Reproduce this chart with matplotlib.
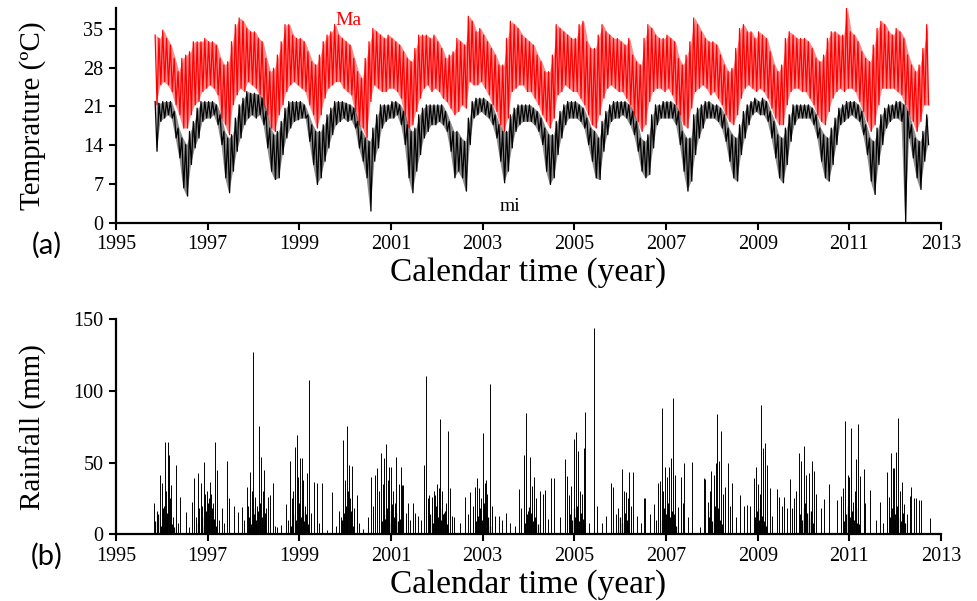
import numpy as np
import matplotlib.pyplot as plt

ma_hi = [
    33.9, 33.3,                                                        # 1995 Nov-Dec
    34.8, 33.3, 32.1, 29.7, 27.3, 29.7, 30.3, 30.9, 32.7, 32.7, 32.7, 33.3,  # 1996
    32.7, 32.7, 32.1, 29.7, 28.5, 29.1, 32.7, 35.8, 37.0, 36.4, 35.1, 34.5,  # 1997
    34.5, 33.3, 32.7, 29.7, 27.3, 27.9, 30.3, 32.7, 35.8, 35.8, 33.9, 33.3,  # 1998
    33.3, 32.7, 30.9, 29.1, 28.5, 30.3, 32.7, 33.9, 34.5, 35.8, 33.9, 33.3,  # 1999
    32.7, 32.1, 29.7, 27.3, 26.1, 29.7, 32.7, 35.1, 34.5, 33.9, 33.3, 33.9,  # 2000
    33.3, 32.7, 32.1, 30.9, 29.7, 29.1, 31.5, 33.9, 33.9, 33.9, 33.3, 33.9,  # 2001
    32.7, 31.5, 29.7, 30.3, 30.9, 33.3, 32.7, 32.1, 37.3, 36.4, 34.5, 35.1,  # 2002
    33.9, 32.7, 31.5, 30.3, 28.5, 28.5, 33.3, 36.4, 35.8, 35.1, 33.9, 33.3,  # 2003
    32.7, 32.1, 30.3, 29.1, 27.3, 27.3, 30.3, 35.8, 35.1, 34.5, 33.9, 33.3,  # 2004
    33.3, 35.8, 36.4, 32.7, 31.5, 31.5, 33.9, 35.8, 34.5, 33.9, 33.3, 33.3,  # 2005
    32.7, 32.1, 33.3, 30.3, 29.1, 28.5, 33.3, 35.8, 35.1, 33.9, 33.3, 33.3,  # 2006
    33.9, 33.3, 32.7, 29.7, 28.5, 30.3, 32.7, 37.0, 35.8, 34.5, 33.3, 32.7,  # 2007
    32.7, 32.1, 30.3, 28.5, 27.3, 27.9, 31.5, 35.1, 35.8, 34.5, 34.5, 33.3,  # 2008
    34.5, 33.9, 33.3, 30.9, 28.5, 27.3, 28.5, 33.3, 34.5, 33.9, 33.3, 33.3,  # 2009
    33.3, 32.7, 31.5, 29.7, 29.1, 30.3, 33.3, 34.5, 34.5, 33.9, 33.9, 38.8,  # 2010
    34.5, 33.9, 32.7, 30.9, 29.7, 29.1, 32.1, 35.1, 36.4, 35.8, 34.5, 33.9,  # 2011
    35.1, 34.5, 33.3, 30.3, 28.5, 27.3, 28.5, 31.5, 35.8,                    # 2012 Jan-Sep
]
ma_lo = [
    21.3, 24.9,
    25.5, 24.9, 23.7, 21.3, 19.5, 17.1, 17.1, 19.5, 21.3, 21.9, 23.7, 24.3,
    24.9, 24.3, 23.1, 18.9, 17.7, 15.9, 21.3, 23.1, 24.3, 23.7, 25.5, 24.9,
    24.3, 23.1, 21.3, 19.5, 17.1, 16.5, 19.5, 21.3, 23.7, 24.9, 25.5, 24.9,
    24.3, 23.7, 21.3, 19.5, 17.1, 19.5, 22.5, 24.3, 24.9, 25.5, 25.5, 24.3,
    23.7, 23.1, 20.1, 17.7, 17.1, 15.3, 21.9, 24.9, 24.3, 23.7, 23.7, 24.3,
    24.3, 23.7, 22.5, 19.5, 17.1, 17.7, 20.1, 22.5, 24.3, 24.9, 23.7, 24.3,
    23.7, 22.5, 21.9, 20.7, 19.5, 20.1, 21.3, 20.7, 25.5, 24.9, 24.9, 25.5,
    24.3, 23.1, 21.3, 20.1, 17.7, 16.5, 18.9, 23.7, 24.3, 24.9, 24.9, 23.7,
    23.7, 22.5, 21.3, 19.5, 18.3, 17.1, 18.9, 23.1, 23.7, 24.9, 24.3, 23.7,
    23.7, 22.5, 21.3, 19.5, 17.7, 17.1, 19.5, 22.5, 24.3, 24.9, 24.3, 23.7,
    23.7, 22.5, 21.3, 19.5, 18.3, 16.5, 17.7, 21.9, 23.7, 24.3, 24.3, 23.7,
    24.3, 23.1, 21.3, 19.5, 17.7, 17.1, 20.7, 23.7, 24.3, 24.9, 24.3, 23.1,
    23.7, 22.5, 21.3, 19.5, 18.3, 17.7, 19.5, 22.5, 24.3, 24.9, 24.3, 23.7,
    24.3, 23.7, 22.5, 20.7, 18.9, 17.7, 17.7, 21.3, 23.7, 24.3, 24.3, 23.7,
    23.7, 22.5, 21.3, 19.5, 18.3, 17.7, 20.1, 22.5, 23.7, 24.3, 23.7, 24.3,
    24.3, 23.7, 21.9, 20.1, 18.3, 16.5, 17.7, 21.3, 24.3, 24.3, 24.3, 24.3,
    23.7, 23.1, 21.3, 19.5, 18.3, 16.5, 18.3, 21.3, 21.3,
]
mi_hi = [
    21.9, 21.6,
    21.9, 21.9, 21.9, 20.1, 17.1, 15.3, 14.1, 16.5, 18.3, 20.7, 21.9, 21.9,
    21.9, 21.9, 21.3, 19.5, 16.5, 15.3, 15.9, 18.9, 21.3, 22.5, 23.7, 23.4,
    23.4, 23.1, 22.5, 20.1, 17.1, 15.9, 16.5, 18.3, 20.7, 21.9, 21.9, 21.9,
    21.9, 21.3, 19.5, 17.7, 16.5, 16.5, 17.7, 19.5, 20.7, 21.9, 21.9, 21.9,
    21.6, 21.3, 20.7, 18.3, 16.5, 15.3, 14.7, 17.1, 19.5, 21.3, 21.3, 21.3,
    21.9, 21.9, 21.3, 20.1, 17.7, 16.5, 17.1, 19.5, 20.7, 21.3, 21.3, 21.3,
    21.3, 21.3, 20.1, 18.3, 16.5, 16.5, 15.3, 14.7, 18.9, 21.9, 22.5, 22.5,
    22.5, 21.9, 21.3, 19.5, 17.7, 16.5, 16.5, 19.5, 20.7, 21.3, 21.3, 21.3,
    21.3, 20.7, 20.1, 18.9, 17.1, 15.9, 15.9, 18.3, 20.1, 21.3, 21.9, 21.9,
    21.9, 21.3, 20.7, 18.9, 17.1, 16.5, 15.3, 18.3, 20.1, 21.3, 21.9, 21.9,
    21.9, 21.9, 21.3, 20.1, 18.3, 15.3, 14.7, 15.9, 19.5, 21.3, 21.3, 21.9,
    21.9, 21.9, 21.3, 20.1, 16.5, 15.3, 15.3, 19.5, 20.7, 21.3, 21.9, 21.9,
    21.3, 21.3, 20.7, 19.5, 17.1, 15.9, 15.3, 17.7, 20.1, 21.3, 21.9, 22.5,
    21.9, 22.5, 21.9, 20.1, 18.3, 15.9, 15.3, 17.1, 19.5, 21.3, 21.3, 21.3,
    21.3, 21.3, 20.7, 19.5, 17.1, 15.9, 15.3, 17.1, 18.9, 20.7, 21.3, 21.9,
    21.9, 21.9, 21.3, 20.1, 17.7, 15.3, 14.7, 17.1, 19.5, 20.7, 21.3, 21.3,
    21.9, 21.9, 21.3, 20.1, 17.7, 15.3, 14.7, 16.5, 19.5,
]
mi_lo = [
    12.9, 18.3,
    18.9, 19.5, 18.9, 15.3, 11.7, 6.3, 4.8, 10.5, 13.5, 15.3, 18.3, 18.9,
    18.9, 19.5, 17.7, 14.1, 8.1, 5.4, 9.3, 12.9, 15.3, 17.7, 18.9, 19.5,
    18.9, 19.5, 17.7, 13.5, 9.3, 7.8, 8.1, 12.3, 15.3, 17.1, 18.3, 18.6,
    18.9, 18.9, 14.7, 10.5, 6.9, 8.1, 11.1, 13.5, 15.9, 17.7, 18.3, 18.9,
    18.3, 18.6, 17.1, 13.5, 11.1, 8.1, 2.1, 11.1, 13.5, 17.1, 18.3, 18.9,
    18.9, 19.5, 17.7, 14.1, 8.1, 5.4, 9.3, 12.3, 15.3, 16.5, 17.7, 17.7,
    18.3, 17.7, 16.5, 12.9, 8.1, 9.3, 8.1, 5.7, 14.1, 18.9, 19.5, 20.1,
    19.5, 18.9, 17.7, 15.3, 11.1, 7.2, 9.3, 13.5, 16.5, 17.7, 18.3, 18.3,
    18.3, 17.7, 16.5, 14.1, 9.3, 6.9, 8.1, 12.3, 15.3, 17.7, 18.9, 18.9,
    18.9, 18.3, 17.1, 14.1, 11.1, 8.1, 7.8, 12.9, 15.9, 18.3, 18.9, 18.9,
    19.5, 18.9, 17.7, 15.9, 12.9, 9.3, 8.1, 8.7, 13.5, 17.7, 18.9, 18.9,
    18.9, 18.9, 17.7, 14.1, 9.3, 5.7, 7.5, 12.3, 15.3, 17.1, 18.9, 18.9,
    18.9, 18.3, 17.1, 14.7, 11.1, 8.1, 7.5, 12.3, 15.3, 17.7, 19.5, 20.1,
    19.5, 19.5, 18.3, 15.3, 11.7, 8.1, 7.2, 10.5, 14.7, 17.7, 18.9, 18.9,
    18.9, 18.9, 17.7, 15.3, 11.1, 8.1, 7.5, 10.5, 14.1, 17.7, 18.3, 18.9,
    19.5, 18.9, 18.3, 15.9, 12.3, 7.5, 5.1, 10.5, 14.1, 17.1, 18.3, 18.9,
    18.9, 18.3, 0.0, 15.3, 11.7, 8.1, 6.0, 11.1, 14.1,
]

# Daily rainfall events (decimal year, mm)
rain_t = [
    1995.84, 1995.89, 1995.96, 1996.01, 1996.04, 1996.07, 1996.10, 1996.13, 1996.15, 1996.18,
    1996.20, 1996.25, 1996.30, 1996.35, 1996.40, 1996.52, 1996.60, 1996.65, 1996.71, 1996.74,
    1996.78, 1996.82, 1996.85, 1996.88, 1996.91, 1996.95, 1996.99, 1997.02, 1997.05, 1997.08,
    1997.12, 1997.15, 1997.20, 1997.25, 1997.31, 1997.36, 1997.42, 1997.47, 1997.58, 1997.67,
    1997.76, 1997.80, 1997.85, 1997.88, 1997.92, 1997.96, 1998.00, 1998.04, 1998.08, 1998.12,
    1998.16, 1998.20, 1998.24, 1998.28, 1998.31, 1998.36, 1998.43, 1998.47, 1998.52, 1998.60,
    1998.72, 1998.76, 1998.80, 1998.84, 1998.87, 1998.90, 1998.95, 1998.98, 1999.02, 1999.05,
    1999.09, 1999.13, 1999.17, 1999.21, 1999.25, 1999.31, 1999.38, 1999.44, 1999.50, 1999.60,
    1999.72, 1999.80, 1999.86, 1999.91, 1999.96, 2000.00, 2000.03, 2000.06, 2000.08, 2000.11,
    2000.14, 2000.20, 2000.25, 2000.31, 2000.40, 2000.50, 2000.56, 2000.61, 2000.65, 2000.70,
    2000.73, 2000.78, 2000.82, 2000.85, 2000.90, 2000.93, 2000.96, 2001.00, 2001.04, 2001.08,
    2001.12, 2001.17, 2001.21, 2001.24, 2001.27, 2001.32, 2001.37, 2001.42, 2001.47, 2001.52,
    2001.58, 2001.66, 2001.72, 2001.77, 2001.80, 2001.84, 2001.90, 2001.94, 2001.97, 2002.00,
    2002.04, 2002.08, 2002.12, 2002.16, 2002.20, 2002.25, 2002.28, 2002.33, 2002.38, 2002.50,
    2002.61, 2002.68, 2002.73, 2002.78, 2002.83, 2002.87, 2002.92, 2002.96, 2003.00, 2003.04,
    2003.07, 2003.10, 2003.15, 2003.20, 2003.27, 2003.35, 2003.42, 2003.50, 2003.60, 2003.70,
    2003.79, 2003.84, 2003.90, 2003.94, 2003.98, 2004.04, 2004.08, 2004.13, 2004.17, 2004.25,
    2004.32, 2004.37, 2004.42, 2004.50, 2004.56, 2004.68, 2004.80, 2004.84, 2004.88, 2004.93,
    2004.99, 2005.04, 2005.08, 2005.12, 2005.16, 2005.20, 2005.24, 2005.31, 2005.42, 2005.50,
    2005.60, 2005.68, 2005.81, 2005.84, 2005.90, 2005.96, 2006.03, 2006.08, 2006.12, 2006.16,
    2006.19, 2006.23, 2006.27, 2006.36, 2006.45, 2006.51, 2006.55, 2006.64, 2006.74, 2006.78,
    2006.83, 2006.87, 2006.91, 2006.94, 2006.98, 2007.02, 2007.06, 2007.10, 2007.16, 2007.20,
    2007.26, 2007.32, 2007.36, 2007.40, 2007.47, 2007.56, 2007.74, 2007.82, 2007.86, 2007.91,
    2007.95, 2007.99, 2008.04, 2008.09, 2008.12, 2008.16, 2008.20, 2008.25, 2008.29, 2008.35,
    2008.39, 2008.43, 2008.52, 2008.61, 2008.70, 2008.76, 2008.84, 2008.92, 2008.97, 2009.01,
    2009.04, 2009.07, 2009.12, 2009.17, 2009.21, 2009.26, 2009.32, 2009.42, 2009.47, 2009.52,
    2009.57, 2009.64, 2009.70, 2009.74, 2009.79, 2009.84, 2009.91, 2009.95, 2010.01, 2010.06,
    2010.11, 2010.18, 2010.22, 2010.28, 2010.38, 2010.44, 2010.56, 2010.74, 2010.82, 2010.87,
    2010.91, 2010.96, 2011.00, 2011.04, 2011.08, 2011.12, 2011.15, 2011.19, 2011.24, 2011.31,
    2011.35, 2011.45, 2011.58, 2011.66, 2011.74, 2011.82, 2011.86, 2011.90, 2011.95, 2011.98,
    2012.02, 2012.05, 2012.10, 2012.14, 2012.20, 2012.26, 2012.32, 2012.35, 2012.40, 2012.46,
    2012.52, 2012.57, 2012.75,
]
rain_mm = [
    21.6, 16, 41.4, 35.5, 20, 64.6, 30, 64.6, 55, 25,
    34.4, 12, 48.3, 8, 26, 15.8, 5, 22.7, 39, 12,
    42.5, 18, 35.5, 20, 50.7, 28, 30, 25, 36.7, 28,
    22, 64.6, 44.8, 10, 18, 8, 51.4, 25, 20, 15.8,
    19, 10, 33.2, 20, 43.7, 30, 127, 26, 20, 75.8,
    54.1, 30, 44.8, 18, 26, 27.4, 36, 6, 5, 6.5,
    20.9, 10, 51.4, 25, 30, 60.7, 69.3, 40, 53, 53,
    38, 20, 42.5, 107.6, 15, 36.7, 35.5, 8, 35.5, 3,
    29.3, 6, 16, 12, 65.8, 38, 75.5, 30, 48.3, 25,
    47.8, 18, 27.4, 8, 4, 12, 40.2, 20, 41.4, 46,
    30, 56.5, 35, 53, 62.8, 38, 47.2, 47.2, 30, 22,
    54.1, 35, 47.2, 34.4, 34.4, 15, 21.6, 10, 21.6, 15,
    13, 10, 48.3, 110.7, 25, 27.4, 26, 30, 27.4, 35,
    32, 80.4, 30, 15, 22, 72, 32, 13, 12, 8,
    26, 14, 29.7, 20, 32.7, 39, 32, 25, 70.4, 35.5,
    38, 28, 104.9, 20, 13, 13, 10, 15, 8, 6,
    31.6, 18, 55.3, 84.8, 16, 54.1, 34, 39.7, 25, 30,
    27.9, 31, 11, 39.5, 39, 12, 52.5, 41, 27.4, 34,
    66.5, 71.6, 58, 30, 28, 60, 85, 8, 143.7, 20,
    8, 13, 36, 33, 14, 18, 45.5, 30, 29.7, 25,
    43.7, 20, 43.7, 13, 8, 25, 25, 14, 20.9, 10,
    35.5, 37.4, 87.9, 30, 47, 40, 47.2, 53, 94.9, 41.4,
    19, 39.7, 22, 49.5, 12, 50.7, 5, 39.5, 38.6, 22.7,
    30, 44.1, 41.4, 49.5, 83.9, 51.4, 72, 28, 33, 49.5,
    20, 35.5, 12, 27.4, 20, 20.2, 19.5, 39.5, 46.7, 35,
    28, 90.2, 60, 63.4, 48.3, 32, 13, 31.6, 26, 20,
    26, 18, 38.6, 18, 25, 30, 56.5, 51, 61.8, 41.4,
    42.5, 51.4, 44, 28, 18, 24.6, 34.8, 23.9, 27, 32,
    79, 41.4, 40, 74.4, 22.7, 30, 52.5, 76.9, 40.8, 45.5,
    22, 30.9, 10, 22.7, 8, 43.7, 26, 56.5, 46, 46,
    57.6, 81.4, 30, 36.7, 21, 14, 27, 32.7, 25, 25,
    24, 23.9, 11.1,
]

# smaller daily totals that make up the dark base of each wet season (decimal year, mm)
rain_small_t = [
    1995.86, 1995.92, 1995.98, 1996.03, 1996.06, 1996.09, 1996.12, 1996.17, 1996.22, 1996.27,
    1996.80, 1996.87, 1996.93, 1996.97, 1997.00, 1997.04, 1997.07, 1997.10, 1997.14, 1997.18,
    1997.90, 1997.94, 1997.98, 1998.02, 1998.06, 1998.10, 1998.14, 1998.18, 1998.22, 1998.26,
    1998.82, 1998.86, 1998.92, 1998.97, 1999.00, 1999.04, 1999.07, 1999.11, 1999.15, 1999.19,
    1999.94, 1999.98, 2000.02, 2000.05, 2000.10, 2000.13, 2000.17, 2000.80, 2000.84, 2000.88,
    2000.92, 2000.95, 2000.99, 2001.03, 2001.06, 2001.10, 2001.15, 2001.19, 2001.82, 2001.86,
    2001.92, 2001.96, 2001.99, 2002.02, 2002.06, 2002.10, 2002.14, 2002.18, 2002.22, 2002.86,
    2002.90, 2002.94, 2002.98, 2003.02, 2003.06, 2003.09, 2003.12, 2003.17, 2003.92, 2003.96,
    2004.00, 2004.02, 2004.06, 2004.10, 2004.15, 2004.20, 2004.90, 2004.95, 2005.00, 2005.02,
    2005.06, 2005.10, 2005.14, 2005.18, 2005.22, 2006.00, 2006.05, 2006.10, 2006.14, 2006.18,
    2006.92, 2006.96, 2007.00, 2007.04, 2007.08, 2007.12, 2007.14, 2007.18, 2007.22, 2007.93,
    2007.97, 2008.01, 2008.06, 2008.10, 2008.14, 2008.18, 2008.22, 2008.94, 2008.99, 2009.03,
    2009.06, 2009.09, 2009.14, 2009.19, 2009.93, 2009.97, 2010.00, 2010.03, 2010.08, 2010.13,
    2010.16, 2010.20, 2010.89, 2010.93, 2010.98, 2011.02, 2011.06, 2011.10, 2011.14, 2011.17,
    2011.21, 2011.88, 2011.92, 2011.97, 2012.00, 2012.04, 2012.07, 2012.12, 2012.16, 2012.22,
]
rain_small_mm = [
    9, 14, 6, 18, 12, 8, 15, 10, 7, 5,
    8, 12, 6, 16, 22, 14, 9, 18, 11, 6,
    12, 7, 18, 14, 10, 16, 22, 12, 8, 15,
    6, 14, 10, 18, 22, 12, 16, 9, 14, 7,
    10, 15, 20, 12, 8, 16, 6, 9, 14, 11,
    18, 8, 16, 21, 12, 15, 9, 11, 10, 14,
    8, 15, 20, 12, 18, 10, 14, 16, 7, 9,
    13, 18, 10, 22, 14, 9, 12, 6, 8, 14,
    19, 11, 15, 9, 12, 7, 14, 10, 18, 12,
    20, 9, 15, 11, 7, 12, 8, 15, 10, 6,
    10, 18, 14, 22, 12, 16, 9, 14, 6, 12,
    16, 9, 20, 14, 18, 10, 7, 12, 16, 10,
    18, 13, 9, 6, 14, 10, 18, 22, 15, 11,
    16, 8, 9, 14, 20, 12, 16, 10, 18, 8,
    7, 12, 18, 10, 14, 20, 12, 9, 15, 8,
]

year_ticks = [1995, 1997, 1999, 2001, 2003, 2005, 2007, 2009, 2011, 2013]
temp_ticks = [0, 7, 14, 21, 28, 35]
rain_ticks = [0, 50, 100, 150]


def zigzag(hi, lo, first=1995 + 10 / 12):
    # upper value early in each month, lower value late in each month
    n = len(hi)
    m = first + np.arange(n) / 12
    t = np.empty(2 * n)
    v = np.empty(2 * n)
    t[0::2] = m + 0.25 / 12
    t[1::2] = m + 0.75 / 12
    v[0::2] = hi
    v[1::2] = lo
    return m + 0.5 / 12, t, v


plt.rcParams['font.family'] = ['Liberation Serif', 'DejaVu Serif']

fig = plt.figure(figsize=(9.77, 6.01), dpi=100)
ax1 = fig.add_axes([0.1187, 0.6295, 0.8445, 0.3572])
ax2 = fig.add_axes([0.1187, 0.1110, 0.8445, 0.3577])

for hi, lo, col in ((ma_hi, ma_lo, '#ff0000'), (mi_hi, mi_lo, 'black')):
    tm, t, v = zigzag(hi, lo)
    ax1.fill_between(tm, lo, hi, color=col, lw=0, alpha=0.45)
    ax1.plot(t, v, color=col, lw=0.9)

ax1.text(2000.07, 36.6, 'Ma', color='#ff0000', fontsize=14, ha='center', va='center')
ax1.text(2003.6, 2.9, 'mi', color='black', fontsize=14, ha='center', va='center')
ax1.set_ylim(0, 38.8)
ax1.set_yticks(temp_ticks)
ax1.set_ylabel('Temprature (ºC)', fontsize=21, labelpad=27)

ax2.vlines(rain_t, 0, rain_mm, color='black', lw=0.7)
ax2.vlines(rain_small_t, 0, rain_small_mm, color='black', lw=0.9)
ax2.set_ylim(0, 150)
ax2.set_yticks(rain_ticks)
ax2.set_ylabel('Rainfall (mm)', fontsize=21, labelpad=19)

for ax in (ax1, ax2):
    ax.set_xlim(1995, 2013)
    ax.set_xticks(year_ticks)
    ax.set_xlabel('Calendar time (year)', fontsize=24, labelpad=2)
    for s in ('top', 'right'):
        ax.spines[s].set_visible(False)
    for s in ('left', 'bottom'):
        ax.spines[s].set_linewidth(1.6)
    ax.tick_params(direction='out', length=5, width=1.5, labelsize=14.5, pad=4)

fig.text(0.048, 0.592, '(a)', fontsize=21, family=['Lato', 'DejaVu Sans'], ha='center', va='center')
fig.text(0.048, 0.075, '(b)', fontsize=21, family=['Lato', 'DejaVu Sans'], ha='center', va='center')

fig.savefig('out.png', dpi=100)
